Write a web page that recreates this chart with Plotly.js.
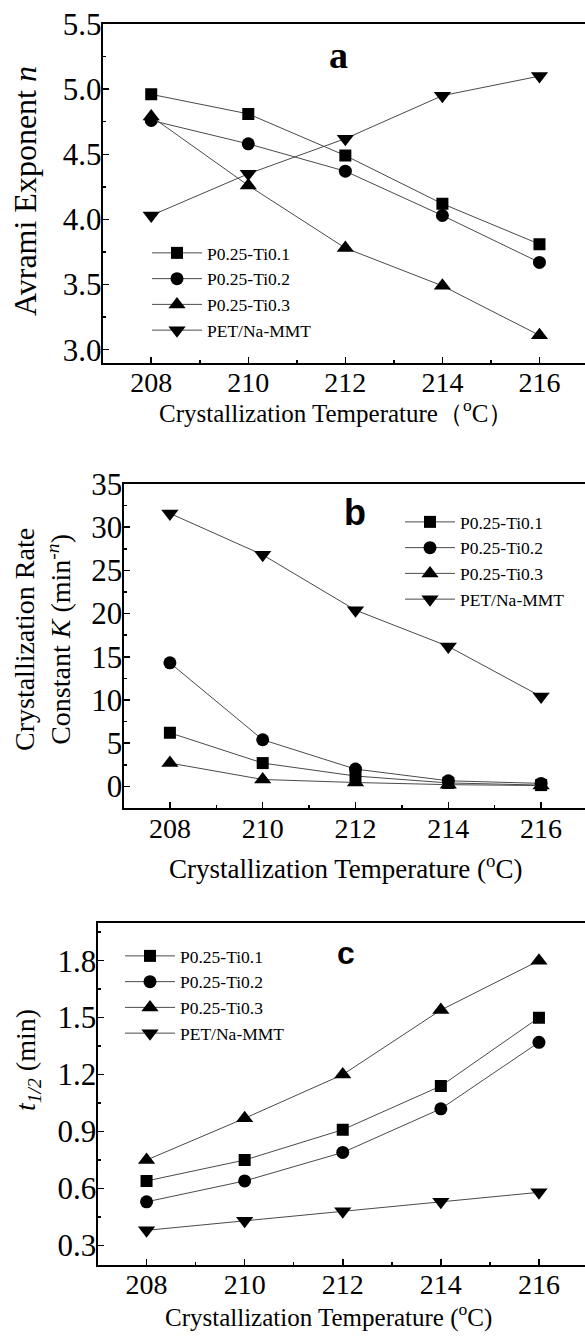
<!DOCTYPE html>
<html>
<head>
<meta charset="utf-8">
<script src="https://cdn.plot.ly/plotly-3.0.1.min.js"></script>
<style>
html,body{margin:0;padding:0;overflow:hidden;background:#fff;}
#chart{width:590px;height:1337px;}
</style>
</head>
<body>
<div id="chart"></div>
<script>
// ---- data ----
var temps = [208, 210, 212, 214, 216];
var seriesNames = ["P0.25-Ti0.1", "P0.25-Ti0.2", "P0.25-Ti0.3", "PET/Na-MMT"];

// (a) Avrami exponent n
var nTi01 = [4.96, 4.81, 4.49, 4.12, 3.81];
var nTi02 = [4.76, 4.58, 4.37, 4.03, 3.67];
var nTi03 = [4.79, 4.26, 3.78, 3.49, 3.11];
var nMMT  = [4.03, 4.35, 4.62, 4.95, 5.10];

// (b) crystallization rate constant K (min^-n)
var kTi01 = [6.2, 2.7, 1.2, 0.4, 0.15];
var kTi02 = [14.3, 5.4, 2.0, 0.65, 0.35];
var kTi03 = [2.7, 0.8, 0.45, 0.2, 0.1];
var kMMT  = [31.6, 26.8, 20.4, 16.2, 10.4];

// (c) half-time t1/2 (min)
var tTi01 = [0.64, 0.75, 0.91, 1.14, 1.50];
var tTi02 = [0.53, 0.64, 0.79, 1.02, 1.37];
var tTi03 = [0.75, 0.97, 1.20, 1.54, 1.80];
var tMMT  = [0.38, 0.43, 0.48, 0.53, 0.58];

var xTickVals = [208, 210, 212, 214, 216];
var xTickText = ["208", "210", "212", "214", "216"];

var xTitleA = "Crystallization Temperature\uFF08<sup>o</sup>C\uFF09";
var xTitleBC = "Crystallization Temperature (<sup>o</sup>C)";
var yTitleA = "Avrami Exponent <i>n</i>";
var yTitleB = "Crystallization Rate<br>Constant <i>K</i> (min<sup>-<i>n</i></sup>)";
var yTitleC = "<i>t</i><sub><i>1/2</i></sub> (min)";

// ---- layout helpers ----
var W = 590, H = 1337;
function px(x){ return x / W; }
function py(y){ return 1 - y / H; }

var SERIF = "'Liberation Serif', 'Times New Roman', Times, serif";
var SANS = "'Liberation Sans', Arial, sans-serif";
var symbols = ["square", "circle", "triangle-up", "triangle-down"];
var msizes = [12, 13, 15, 15];
var lineCol = "#4a4a4a";

function mk(xa, ya, leg, names, ys){
  return ys.map(function(y, i){
    return {
      x: temps, y: y, name: names[i], type: "scatter", mode: "lines+markers",
      xaxis: xa, yaxis: ya, legend: leg,
      line: {color: lineCol, width: 1},
      marker: {symbol: symbols[i], size: msizes[i], color: "#000", line: {width: 0}}
    };
  });
}

var traces = []
  .concat(mk("x", "y", "legend", seriesNames, [nTi01, nTi02, nTi03, nMMT]))
  .concat(mk("x2", "y2", "legend2", seriesNames, [kTi01, kTi02, kTi03, kMMT]))
  .concat(mk("x3", "y3", "legend3", seriesNames, [tTi01, tTi02, tTi03, tMMT]));

function xAxis(anchor, domain){
  return {
    anchor: anchor, domain: domain, range: [207, 217],
    tickvals: xTickVals, ticktext: xTickText,
    ticks: "inside", ticklen: 6, tickwidth: 1.5, tickcolor: "#000",
    ticklabelstandoff: -6,
    minor: {dtick: 1, tick0: 207, ticks: "inside", ticklen: 3, tickwidth: 1.5, tickcolor: "#000"},
    showline: true, linecolor: "#000", linewidth: 2, mirror: true,
    showgrid: false, zeroline: false,
    tickfont: {family: SERIF, size: 28, color: "#000"},
    automargin: false
  };
}
function yAxis(anchor, domain, range, tick0, dtick, minorDtick, fmt){
  return {
    anchor: anchor, domain: domain, range: range,
    tick0: tick0, dtick: dtick, tickformat: fmt,
    ticks: "inside", ticklen: 6, tickwidth: 1.5, tickcolor: "#000",
    ticklabelstandoff: -7,
    minor: {tick0: tick0, dtick: minorDtick, ticks: "inside", ticklen: 3, tickwidth: 1.5, tickcolor: "#000"},
    showline: true, linecolor: "#000", linewidth: 2, mirror: true,
    showgrid: false, zeroline: false,
    tickfont: {family: SERIF, size: 31, color: "#000"},
    automargin: false
  };
}

var xa = xAxis("y", [px(102.7), px(588)]);
var ya = yAxis("x", [py(362.7), py(24)], [2.9, 5.5], 3.0, 0.5, 0.25, ".1f");
var xb = xAxis("y2", [px(123.5), px(587.5)]);
var yb = yAxis("x2", [py(808), py(484)], [-2.5, 35], 0, 5, 2.5, "d");
var xc = xAxis("y3", [px(97.5), px(588)]);
var yc = yAxis("x3", [py(1264.5), py(922.7)], [0.2, 2.0], 0.3, 0.3, 0.15, ".1f");

function legendAt(x, y){
  return {
    x: px(x), y: py(y), xanchor: "left", yanchor: "top",
    xref: "paper", yref: "paper",
    bgcolor: "rgba(0,0,0,0)", borderwidth: 0,
    font: {family: SERIF, size: 17.5, color: "#000"},
    itemwidth: 50, tracegroupgap: 0, traceorder: "normal"
  };
}

function ann(text, x, y, font, angle){
  return {text: text, x: px(x), y: py(y), xref: "paper", yref: "paper", showarrow: false,
          xanchor: "center", yanchor: "middle", textangle: angle || 0, font: font};
}

var layout = {
  width: W, height: H,
  margin: {l: 0, r: 0, t: 0, b: 0, pad: 0},
  paper_bgcolor: "#fff", plot_bgcolor: "#fff",
  showlegend: true,
  xaxis: xa, yaxis: ya,
  xaxis2: xb, yaxis2: yb,
  xaxis3: xc, yaxis3: yc,
  legend: legendAt(147, 235),
  legend2: legendAt(400, 504),
  legend3: legendAt(120, 938),
  annotations: [
    ann("<b>a</b>", 338, 55, {family: SERIF, size: 38, color: "#000"}),
    ann("<b>b</b>", 355, 512, {family: SANS, size: 36, color: "#000"}),
    ann("<b>c</b>", 346, 953, {family: SANS, size: 32, color: "#000"}),
    ann(xTitleA, 336, 411, {family: SERIF, size: 25, color: "#000"}),
    ann(xTitleBC, 345, 867, {family: SERIF, size: 27, color: "#000"}),
    ann(xTitleBC, 328, 1315, {family: SERIF, size: 25, color: "#000"}),
    ann(yTitleA, 25, 191, {family: SERIF, size: 32, color: "#000"}, -90),
    ann(yTitleB, 43, 640, {family: SERIF, size: 28, color: "#000"}, -90),
    ann(yTitleC, 27, 1060, {family: SERIF, size: 28, color: "#000"}, -90)
  ]
};

Plotly.newPlot("chart", traces, layout, {displayModeBar: false, staticPlot: true});
</script>
</body>
</html>
